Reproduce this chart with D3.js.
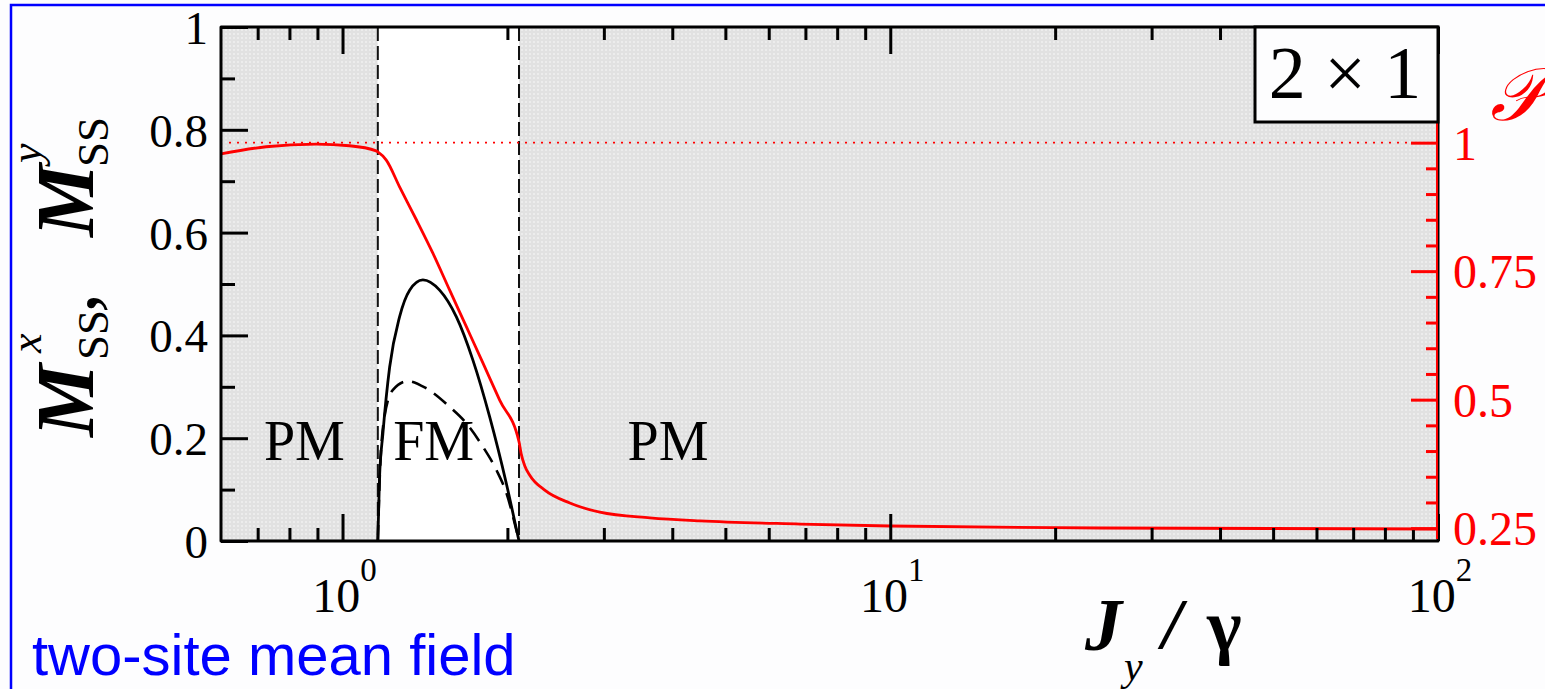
<!DOCTYPE html>
<html>
<head>
<meta charset="utf-8">
<script src="https://cdn.jsdelivr.net/npm/d3@7"></script>
<style>
  body { margin: 0; background: #fdfdfe; }
  svg { display: block; }
</style>
</head>
<body>
<div id="chart"></div>
<script>
// ---- data ----
const xMajor = [1, 10, 100];
const xMinor = [0.7, 0.8, 0.9, 2, 3, 4, 5, 6, 7, 8, 9, 20, 30, 40, 50, 60, 70, 80, 90];
const xExponents = ["0", "1", "2"];
const yLeftMajor = [0, 0.2, 0.4, 0.6, 0.8, 1];
const yLeftMinor = [0.1, 0.3, 0.5, 0.7, 0.9];
const yRightMajor = [0.25, 0.5, 0.75, 1];
const yRightMinor = [0.3, 0.35, 0.4, 0.45, 0.55, 0.6, 0.65, 0.7, 0.8, 0.85, 0.9, 0.95, 1.05, 1.1, 1.15, 1.2];
const phaseBounds = [1.16, 2.1];
const phaseNames = ["PM", "FM", "PM"];

// M^x_SS (solid black)
const mxJ = [1.16, 1.168, 1.185, 1.219, 1.271, 1.326, 1.402, 1.504, 1.614, 1.730, 1.857, 1.992, 2.092, 2.1];
const mxM = [0.0, 0.12, 0.209, 0.338, 0.436, 0.488, 0.508, 0.488, 0.436, 0.352, 0.241, 0.111, 0.008, 0.0];
// M^y_SS (dashed black)
const myJ = [1.16, 1.17, 1.193, 1.236, 1.316, 1.422, 1.569, 1.683, 1.805, 1.910, 1.992, 2.077, 2.1];
const myM = [0.0, 0.13, 0.242, 0.294, 0.311, 0.297, 0.261, 0.229, 0.183, 0.138, 0.093, 0.021, 0.0];
// purity P (red, right axis)
const pJ = [0.6, 0.725, 0.895, 1.03, 1.152, 1.16, 1.202, 1.271, 1.364, 1.462, 1.569, 1.683, 1.805, 1.936, 2.1,
            2.12, 2.15, 2.197, 2.34, 2.6, 2.95, 3.64, 4.49, 6.85, 10, 24.2, 100];
const pV = [0.978, 0.992, 0.997, 0.994, 0.984, 0.982, 0.966, 0.914, 0.850, 0.785, 0.713, 0.642, 0.571, 0.499, 0.418,
            0.394, 0.372, 0.353, 0.324, 0.299, 0.281, 0.270, 0.264, 0.258, 0.2542, 0.2503, 0.2483];
const pRef = 1;

// ---- layout ----
const W = 1545, H = 689;
const mLeft = 221, mRight = 1438, mTop = 27, mBottom = 541;
const serif = "'Liberation Serif', 'Times New Roman', serif";

const svg = d3.select("#chart").append("svg")
    .attr("width", W).attr("height", H)
    .attr("viewBox", "0 0 " + W + " " + H);

svg.append("rect").attr("width", W).attr("height", H).attr("fill", "#fdfdfe");

// blue outer border (only top and left visible)
svg.append("rect")
    .attr("x", 11).attr("y", 5).attr("width", W + 20).attr("height", H + 20)
    .attr("fill", "none").attr("stroke", "#0000ff").attr("stroke-width", 2.5);

const x = d3.scaleLog().domain([0.6, 100]).range([mLeft, mRight]);
const yL = d3.scaleLinear().domain([0, 1]).range([mBottom, mTop]);
const yR = d3.scaleLinear().domain([0.225, 1.225]).range([mBottom, mTop]);

// dotted grey pattern for PM regions
const defs = svg.append("defs");
const pat = defs.append("pattern").attr("id", "dots")
    .attr("patternUnits", "userSpaceOnUse").attr("width", 4).attr("height", 4);
pat.append("rect").attr("width", 4).attr("height", 4).attr("fill", "#e1e1e1");
pat.append("circle").attr("cx", 2).attr("cy", 2).attr("r", 1).attr("fill", "#f0f0f0");

const plot = svg.append("g");

// shaded PM regions
plot.append("rect")
    .attr("x", x(0.6)).attr("y", mTop)
    .attr("width", x(phaseBounds[0]) - x(0.6)).attr("height", mBottom - mTop)
    .attr("fill", "url(#dots)");
plot.append("rect")
    .attr("x", x(phaseBounds[1])).attr("y", mTop)
    .attr("width", x(100) - x(phaseBounds[1])).attr("height", mBottom - mTop)
    .attr("fill", "url(#dots)");
plot.append("rect")
    .attr("x", x(phaseBounds[0])).attr("y", mTop)
    .attr("width", x(phaseBounds[1]) - x(phaseBounds[0])).attr("height", mBottom - mTop)
    .attr("fill", "#ffffff");

// phase boundaries
plot.selectAll(".bound").data(phaseBounds).enter().append("line")
    .attr("x1", d => x(d)).attr("x2", d => x(d))
    .attr("y1", mTop).attr("y2", mBottom)
    .attr("stroke", "#111").attr("stroke-width", 2)
    .attr("stroke-dasharray", "14,5");

// reference dotted line P = 1
plot.append("line")
    .attr("x1", mLeft + 8).attr("x2", mRight - 25)
    .attr("y1", yR(pRef)).attr("y2", yR(pRef))
    .attr("stroke", "#ff0000").attr("stroke-width", 1.6)
    .attr("stroke-dasharray", "2,6");

// phase labels
const labelJ = [0.852, 1.467, 3.93];
plot.selectAll(".phase").data(phaseNames).enter().append("text")
    .attr("x", (d, i) => x(labelJ[i]))
    .attr("y", 460)
    .attr("text-anchor", "middle")
    .style("font-family", serif).style("font-size", "56px")
    .text(d => d);

// curves
const lineL = d3.line().x(d => x(d[0])).y(d => yL(d[1])).curve(d3.curveMonotoneX);
const lineR = d3.line().x(d => x(d[0])).y(d => yR(d[1])).curve(d3.curveMonotoneX);

plot.append("path")
    .attr("d", lineL(d3.zip(myJ, myM)))
    .attr("fill", "none").attr("stroke", "#000").attr("stroke-width", 2.6)
    .attr("stroke-dasharray", "16,9");
plot.append("path")
    .attr("d", lineL(d3.zip(mxJ, mxM)))
    .attr("fill", "none").attr("stroke", "#000").attr("stroke-width", 2.8);
plot.append("path")
    .attr("d", lineR(d3.zip(pJ, pV)))
    .attr("fill", "none").attr("stroke", "#ff0000").attr("stroke-width", 2.8);

// ---- axes ----
function styleAxis(g, color, w) {
    g.select(".domain").remove();
    g.selectAll(".tick line").attr("stroke", color).attr("stroke-width", w);
    g.selectAll(".tick text").remove();
}
svg.append("g").attr("transform", "translate(0," + mBottom + ")")
    .call(d3.axisBottom(x).tickValues(xMajor).tickSize(-27)).call(g => styleAxis(g, "#000", 3));
svg.append("g").attr("transform", "translate(0," + mBottom + ")")
    .call(d3.axisBottom(x).tickValues(xMinor).tickSize(-13)).call(g => styleAxis(g, "#000", 3));
svg.append("g").attr("transform", "translate(0," + mTop + ")")
    .call(d3.axisTop(x).tickValues(xMajor).tickSize(-27)).call(g => styleAxis(g, "#000", 3));
svg.append("g").attr("transform", "translate(0," + mTop + ")")
    .call(d3.axisTop(x).tickValues(xMinor).tickSize(-13)).call(g => styleAxis(g, "#000", 3));
svg.append("g").attr("transform", "translate(" + mLeft + ",0)")
    .call(d3.axisLeft(yL).tickValues(yLeftMajor).tickSize(-27)).call(g => styleAxis(g, "#000", 3));
svg.append("g").attr("transform", "translate(" + mLeft + ",0)")
    .call(d3.axisLeft(yL).tickValues(yLeftMinor).tickSize(-14)).call(g => styleAxis(g, "#000", 3));
svg.append("g").attr("transform", "translate(" + mRight + ",0)")
    .call(d3.axisRight(yR).tickValues(yRightMajor).tickSize(-27)).call(g => styleAxis(g, "#ff0000", 3));
svg.append("g").attr("transform", "translate(" + mRight + ",0)")
    .call(d3.axisRight(yR).tickValues(yRightMinor).tickSize(-12)).call(g => styleAxis(g, "#ff0000", 3));

// frame
svg.append("rect")
    .attr("x", mLeft).attr("y", mTop).attr("width", mRight - mLeft).attr("height", mBottom - mTop)
    .attr("fill", "none").attr("stroke", "#000").attr("stroke-width", 3)
    .attr("stroke-linejoin", "round");
svg.append("line")
    .attr("x1", mRight - 1).attr("x2", mRight - 1).attr("y1", 122).attr("y2", mBottom - 2)
    .attr("stroke", "#ff0000").attr("stroke-width", 2);

// tick labels
svg.selectAll(".ylab").data(yLeftMajor).enter().append("text")
    .attr("x", 208).attr("y", d => yL(d) + 17)
    .attr("text-anchor", "end")
    .style("font-family", serif).style("font-size", "47px")
    .text(d => d3.format("")(d));
svg.selectAll(".yrlab").data(yRightMajor).enter().append("text")
    .attr("x", 1453).attr("y", d => yR(d) + 17)
    .style("font-family", serif).style("font-size", "48px")
    .attr("fill", "#ff0000")
    .text(d => d3.format("")(d));
const xl = svg.selectAll(".xlab").data(xMajor).enter().append("text")
    .attr("x", d => x(d) + 2).attr("y", 612)
    .attr("text-anchor", "middle")
    .style("font-family", serif).style("font-size", "48px");
xl.append("tspan").text("10");
xl.append("tspan").attr("dy", -31).style("font-size", "33px").text((d, i) => xExponents[i]);

// 2x1 box
svg.append("rect")
    .attr("x", 1255).attr("y", mTop).attr("width", mRight - 1255).attr("height", 122 - mTop)
    .attr("fill", "#fdfdfe").attr("stroke", "#000").attr("stroke-width", 3);
svg.append("text")
    .attr("x", 1345).attr("y", 98).attr("text-anchor", "middle")
    .style("font-family", serif).style("font-size", "74px")
    .text("2 \u00d7 1");

// P label
svg.append("text")
    .attr("x", 1490).attr("y", 120)
    .attr("fill", "#ff0000")
    .style("font-family", serif).style("font-size", "74px").style("font-style", "italic")
    .text("\ud835\udcab");

// y label (rotated)
const yl = svg.append("g").attr("transform", "translate(93,437) rotate(-90)")
    .style("font-family", serif);
yl.append("text").attr("x", 0).attr("y", 0)
    .style("font-size", "82px").style("font-weight", "bold").style("font-style", "italic").text("M");
yl.append("text").attr("x", 84).attr("y", -52)
    .style("font-size", "44px").style("font-style", "italic").text("x");
yl.append("text").attr("x", 77).attr("y", 15)
    .style("font-size", "45px").text("SS");
yl.append("text").attr("x", 124).attr("y", 2)
    .style("font-size", "80px").text(",");
yl.append("text").attr("x", 200).attr("y", 0)
    .style("font-size", "82px").style("font-weight", "bold").style("font-style", "italic").text("M");
yl.append("text").attr("x", 274).attr("y", -52)
    .style("font-size", "44px").style("font-style", "italic").text("y");
yl.append("text").attr("x", 270).attr("y", 15)
    .style("font-size", "45px").text("SS");

// x label
const xlab = svg.append("g").style("font-family", serif);
xlab.append("text").attr("x", 1085).attr("y", 650)
    .style("font-size", "74px").style("font-weight", "bold").style("font-style", "italic").text("J");
xlab.append("text").attr("x", 1124).attr("y", 680)
    .style("font-size", "42px").style("font-style", "italic").text("y");
xlab.append("text").attr("x", 1162).attr("y", 648)
    .style("font-size", "72px").style("font-weight", "bold").style("font-style", "italic").text("/");
xlab.append("text").attr("x", 1207).attr("y", 650)
    .style("font-size", "74px").style("font-weight", "bold").text("\u03b3");

// method note
svg.append("text")
    .attr("x", 32).attr("y", 675)
    .attr("fill", "#0000ff")
    .style("font-family", "'Liberation Sans', Arial, sans-serif").style("font-size", "58px")
    .text("two-site mean field");
</script>
</body>
</html>
